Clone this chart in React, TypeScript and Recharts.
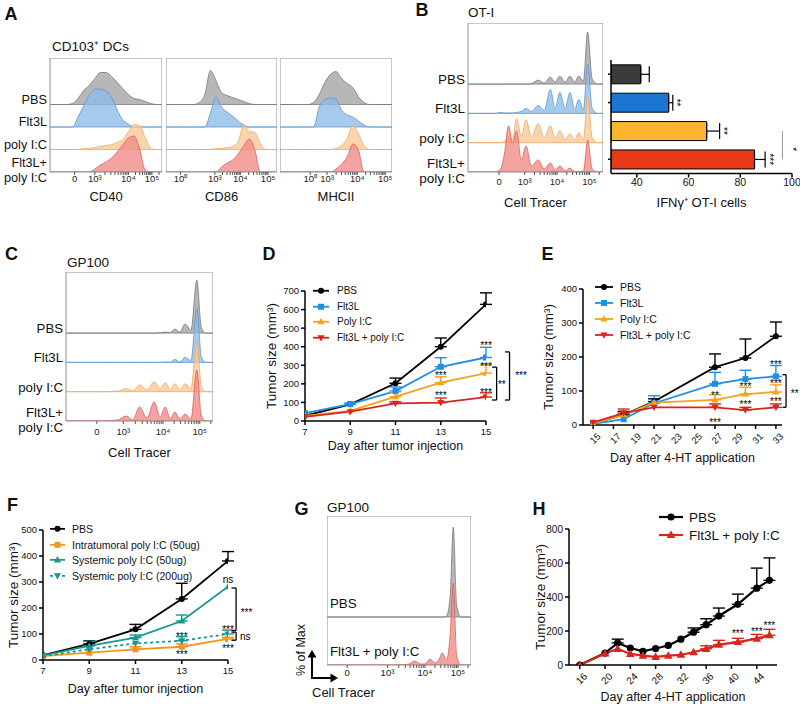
import React from "react";
import {
  Area,
  AreaChart,
  Bar,
  BarChart,
  Cell,
  ErrorBar,
  Label,
  Legend,
  Line,
  LineChart,
  ReferenceArea,
  ReferenceDot,
  ReferenceLine,
  XAxis,
  YAxis,
} from "recharts";

const FONT = "'Liberation Sans', Arial, Helvetica, sans-serif";

// ---------- flow histograms ----------
const groups = ["PBS", "Flt3L", "poly I:C", "Flt3L+\npoly I:C"];
const tracerLabels = ["0", "10³", "10⁴", "10⁵"];

const aGrid = [0, 15, 20, 25, 30, 35, 40, 45, 50, 55, 60, 65, 70, 75, 80, 85, 90, 95, 100];
const cd40Pbs = [0, 0, 1, 6, 14, 19, 26, 32, 32, 28, 22, 16, 10, 6, 5, 3, 1, 0, 0];
const cd40Flt = [0, 0, 0, 10, 21, 32, 38, 38, 36, 30, 17, 7, 3, 0, 0, 0, 0, 0, 0];
const cd40Poly = [0, 0, 0, 0, 1, 1, 2, 3, 4, 5, 7, 10, 18, 25, 24, 12, 1, 0, 0];
const cd40Combo = [0, 0, 0, 0, 0, 0, 3, 7, 10, 14, 20, 27, 34, 36, 23, 2, 0, 0, 0];
const cd86Pbs = [0, 0, 0, 0, 2, 10, 34, 24, 12, 9, 7, 5, 3, 1, 0, 0, 0, 0, 0];
const cd86Flt = [0, 0, 0, 0, 0, 0, 14, 30, 20, 15, 11, 6, 2, 0, 0, 0, 0, 0, 0];
const cd86Poly = [0, 0, 0, 0, 0, 0, 0, 1, 1, 2, 3, 8, 24, 18, 17, 6, 0, 0, 0];
const cd86Combo = [0, 0, 0, 0, 0, 0, 0, 0, 5, 9, 12, 18, 26, 33, 22, 0, 0, 0, 0];
const mhcPbs = [0, 0, 0, 0, 2, 10, 22, 30, 33, 26, 21, 17, 8, 2, 0, 0, 0, 0, 0];
const mhcFlt = [0, 0, 0, 0, 0, 20, 27, 29, 28, 17, 12, 10, 6, 2, 0, 0, 0, 0, 0];
const mhcPoly = [0, 0, 0, 0, 0, 0, 0, 0, 1, 4, 11, 24, 16, 4, 0, 0, 0, 0, 0];
const mhcCombo = [0, 0, 0, 0, 0, 0, 0, 0, 3, 8, 15, 28, 22, 0, 0, 0, 0, 0, 0];
const cd40Ticks = [22, 40, 70, 91];
const cd40Labels = ["0", "10³", "10⁴", "10⁵"];
const cd86Ticks = [13, 44, 67, 92];
const mhcTicks = [27, 42, 69, 94];
const logLabels = ["10⁰", "10³", "10⁴", "10⁵"];

const bGrid = [0, 20, 24, 27, 30, 33, 36, 39.5, 43, 47, 52, 56.5, 61, 64.5, 68, 72, 75.5, 79, 82, 85.5, 88.6, 92, 96, 100];
const bPbs = [0, 0, 0, 0, 0, 0, 0, 0, 0, 0.5, 4, 1, 7, 2, 8, 2, 8, 2, 8, 3, 52, 5, 0, 0];
const bFlt = [0, 0, 1, 0.5, 0.5, 0.5, 1, 2, 5, 2, 8, 3, 24, 5, 21, 5, 21, 4, 14, 4, 49, 5, 0, 0];
const bPoly = [0, 0, 0, 2, 5, 4, 24, 6, 23, 6, 19, 5, 17, 4, 12, 3, 9, 3, 10, 3, 47, 5, 0, 0];
const bCombo = [0, 0, 3, 18, 46, 29, 41, 12, 26, 6, 12, 3, 9, 2, 6, 1, 4, 0.5, 0.5, 1, 32, 3, 0, 0];
const bTicks = [23, 42, 66, 90];

const cGrid = [0, 25, 35, 41, 45.5, 50, 55, 60, 64, 67.5, 71, 74, 77.5, 81, 85, 89, 92, 95, 100];
const cPbs = [0, 0, 0, 0, 0, 0, 0, 0, 0.3, 1, 0.5, 4, 1, 9, 3, 53, 6, 0, 0];
const cFlt = [0, 0, 0, 0, 0, 0, 0, 0, 0, 0.3, 0.3, 3, 0.5, 5, 2, 54, 6, 0, 0];
const cPoly = [0, 0, 0.5, 3, 1, 7, 2, 10, 3, 9, 2, 8, 2, 8, 3, 51, 6, 0, 0];
const cCombo = [0, 0, 1, 5, 1, 14, 3, 19, 4, 14, 2, 9, 2, 7, 2, 51, 6, 0, 0];
const cTicks = [21, 39, 66, 91];

const gGrid = [0, 50, 57, 61, 65, 68, 71.5, 75, 78, 80, 83, 85.5, 87.7, 90, 93, 100];
const gPbs = [0, 0, 0, 0, 0, 0, 0, 0, 0, 0, 1, 20, 90, 12, 0, 0];
const gCombo = [0, 0, 1, 4, 1, 1, 6, 2, 6, 12, 5, 30, 82, 10, 0, 0];
const gTicks = [14, 42, 68, 91];
const gGroups = ["PBS", "Flt3L + poly I:C"];

const histFill = ["#a3a3a3", "#8dbbe6", "#f8c896", "#ef8a86"];
const histStroke = ["#7a7a7a", "#5b99d4", "#eeaa66", "#d9605a"];

// ---------- IFNy bars ----------
const bBarVals = [41.5, 52.3, 67, 85.5];
const bBarErrs = [3.3, 1.6, 5, 4.1];
const barColors = ["#3b3b3b", "#1a76d2", "#fdb52d", "#e5391a"];

// ---------- tumor growth ----------
const dDays = [7, 9, 11, 13, 15];
const dPbs = [28, 90, 203, 400, 628];
const dPbsErr = [null, null, 28, 47, 62];
const dFlt = [42, 91, 161, 292, 342];
const dFltErr = [null, 6, 22, 49, 55];
const dPoly = [28, 55, 131, 206, 258];
const dPolyErr = [null, null, 26, 32, 45];
const dCombo = [22, 50, 95, 99, 129];
const dComboErr = [null, null, 8, 25, 23];

const eDays = [15, 18, 21, 27, 30, 33];
const ePbs = [5, 30, 69, 170, 197, 261];
const ePbsErr = [null, 10, 8, 39, 56, 42];
const eFlt = [3, 17, 64, 121, 135, 143];
const eFltErr = [null, null, 22, 34, 26, 32];
const ePoly = [5, 30, 66, 74, 91, 97];
const ePolyErr = [null, null, null, 15, 20, 21];
const eCombo = [8, 35, 52, 52, 44, 52];
const eComboErr = [null, 12, null, 10, 8, 10];

const fDays = [7, 9, 11, 13, 15];
const fPbs = [19, 62, 118, 235, 381];
const fPbsErr = [null, 12, 19, 60, 36];
const fIntra = [15, 28, 41, 51, 81];
const fIntraErr = [null, null, 10, 11, 6];
const fSys50 = [18, 54, 86, 150, 282];
const fSys50Err = [null, 18, 10, 23, null];
const fSys200 = [15, 41, 64, 74, 100];
const fSys200Err = [null, null, null, 16, 15];

const hDays = [16, 20, 22, 24, 26, 28, 30, 32, 34, 36, 38, 41, 44, 46];
const hPbs = [0, 70, 130, 100, 80, 97, 115, 152, 193, 237, 288, 357, 452, 498];
const hPbsErr = [null, null, 22, null, null, null, null, null, 25, 35, 47, 60, 118, 132];
const hCombo = [0, 68, 95, 65, 55, 48, 55, 60, 75, 95, 120, 135, 155, 175];
const hComboErr = [null, null, null, null, null, null, null, null, null, 18, 25, 22, 25, 35];

const dNotes = [
  { x: 13, y: 255, text: "***" },
  { x: 13, y: 150, text: "***" },
  { x: 15, y: 415, text: "***" },
  { x: 15, y: 302, text: "***" },
  { x: 15, y: 167, text: "***" },
];
const dBrackets = [
  { x: 15.47, y1: 290, y2: 113, arm: 0.2, text: "**", tx: 15.7, ty: 206 },
  { x: 16.04, y1: 372, y2: 113, arm: 0.2, text: "***", tx: 16.55, ty: 258 },
];
const eNotes = [
  { x: 33, y: 185, text: "***" },
  { x: 33, y: 128, text: "***" },
  { x: 30, y: 118, text: "***" },
  { x: 27, y: 94, text: "**" },
  { x: 30, y: 66, text: "***" },
  { x: 33, y: 74, text: "***" },
  { x: 27, y: 13, text: "***" },
];
const eBrackets = [{ x: 34, y1: 148, y2: 52, arm: 0.35, text: "**", tx: 34.85, ty: 100 }];
const fNotes = [
  { x: 15, y: 308, text: "ns" },
  { x: 15, y: 125, text: "***" },
  { x: 13, y: 100, text: "***" },
  { x: 13, y: 28, text: "***" },
  { x: 15, y: 54, text: "***" },
];
const fBrackets = [
  { x: 15.35, y1: 277, y2: 113, arm: 0.2, text: "***", tx: 15.8, ty: 190 },
  { x: 15.35, y1: 107, y2: 76, arm: 0.2, text: "ns", tx: 15.75, ty: 92 },
];
const hNotes = [
  { x: 41, y: 200, text: "***" },
  { x: 44, y: 212, text: "***" },
  { x: 46, y: 245, text: "***" },
];

function Txt({ x, y, size, bold, anchor = "start", rotate, children }: any) {
  const tx = anchor === "middle" ? "-50%" : anchor === "end" ? "-100%" : "0";
  return (
    <div
      style={{
        position: "absolute",
        left: x,
        top: y,
        fontSize: size,
        fontWeight: bold ? 700 : 400,
        lineHeight: 1,
        whiteSpace: "nowrap",
        transform: `translate(${tx}, -50%)${rotate ? ` rotate(${rotate}deg)` : ""}`,
      }}
    >
      {children}
    </div>
  );
}

// minor log ticks inside each decade from 10^3 upward
function withMinorTicks(ticks: number[], labels: string[]) {
  const out = [...ticks];
  const start = labels.indexOf("10³");
  for (let i = start; i >= 0 && i < ticks.length; i++) {
    const w = i + 1 < ticks.length ? ticks[i + 1] - ticks[i] : ticks[i] - ticks[i - 1];
    for (let k = 2; k <= 9; k++) {
      const v = ticks[i] + w * Math.log10(k);
      if (v < 99.5) out.push(v);
    }
  }
  return out.sort((a, b) => a - b);
}

function FlowHist(p: any) {
  const n = p.series.length;
  const bases = p.series.map((_: any, i: number) => (n - 1 - i) * p.rowGap);
  const data = p.grid.map((x: number, j: number) => {
    const row: any = { x };
    p.series.forEach((s: number[], i: number) => {
      row["s" + i] = [bases[i], bases[i] + s[j]];
    });
    return row;
  });
  const inside = p.labelMode === "inside";
  const lw = p.labels && !inside ? p.labelW : 0;
  const allTicks = withMinorTicks(p.ticks, p.tickLabels);

  const rowTick = (t: any) => {
    const i = bases.indexOf(t.payload.value);
    const lines = (p.labels[i] || "").split("\n");
    const y0 = t.y + (inside ? -14 : lines.length > 1 ? -9 : -5);
    return (
      <text
        key={"r" + i}
        x={t.x}
        y={y0}
        textAnchor={inside ? "start" : "end"}
        dominantBaseline="central"
        fontSize={p.labelSize}
        fill="#111"
        fontFamily={FONT}
      >
        {lines.map((l: string, k: number) => (
          <tspan key={k} x={t.x} dy={k === 0 ? 0 : 14.5}>
            {l}
          </tspan>
        ))}
      </text>
    );
  };

  return (
    <div style={{ position: "absolute", left: p.left - lw, top: p.top }}>
      <AreaChart
        width={p.width + lw}
        height={p.height + p.axisH + 5}
        data={data}
        margin={{ top: 0, right: 0, bottom: 5, left: 0 }}
      >
        <XAxis
          type="number"
          dataKey="x"
          domain={[0, 100]}
          ticks={allTicks}
          interval={0}
          allowDataOverflow
          height={p.axisH}
          axisLine={false}
          tickLine={{ stroke: "#555" }}
          tickSize={3}
          tickMargin={p.tickGap}
          tick={{ fontSize: 9.5, fill: "#222", fontFamily: FONT }}
          tickFormatter={(v: number) => {
            const i = p.ticks.indexOf(v);
            return i >= 0 ? p.tickLabels[i] : "";
          }}
        >
          {p.title && (
            <Label value={p.title} position="insideBottom" offset={0} fontSize={13} fill="#111" fontFamily={FONT} />
          )}
        </XAxis>
        {p.labels ? (
          <YAxis
            type="number"
            domain={[0, p.height]}
            allowDataOverflow
            ticks={bases}
            interval={0}
            width={inside ? 120 : lw}
            mirror={inside}
            axisLine={false}
            tickLine={false}
            tickSize={0}
            tickMargin={3}
            tick={rowTick}
          />
        ) : (
          <YAxis type="number" domain={[0, p.height]} allowDataOverflow hide />
        )}
        {p.series.map((_: any, i: number) => (
          <Area
            key={i}
            type="monotone"
            dataKey={"s" + i}
            stroke={histStroke[p.palette[i]]}
            strokeWidth={0.8}
            fill={histFill[p.palette[i]]}
            fillOpacity={0.78}
            dot={false}
            activeDot={false}
            isAnimationActive={false}
          />
        ))}
        <ReferenceArea x1={0} x2={100} y1={0} y2={p.height} fill="none" stroke="#8f8f8f" strokeWidth={1} />
      </AreaChart>
    </div>
  );
}

function Glyph({ shape, x, y, r, color }: any) {
  if (x == null || y == null) return <g />;
  if (shape === "square") return <rect x={x - r} y={y - r} width={2 * r} height={2 * r} fill={color} />;
  if (shape === "triangle")
    return <polygon points={`${x},${y - r * 1.25} ${x - r * 1.2},${y + r * 0.85} ${x + r * 1.2},${y + r * 0.85}`} fill={color} />;
  if (shape === "down")
    return <polygon points={`${x},${y + r * 1.25} ${x - r * 1.2},${y - r * 0.85} ${x + r * 1.2},${y - r * 0.85}`} fill={color} />;
  return <circle cx={x} cy={y} r={r} fill={color} />;
}

const slantTick = (size: number) => (props: any) => {
  const { x, y, payload } = props;
  return (
    <text
      x={x + 3}
      y={y + 3}
      textAnchor="end"
      dominantBaseline="hanging"
      fontSize={size}
      fill="#111"
      fontFamily={FONT}
      transform={`rotate(-45 ${x + 3} ${y + 3})`}
    >
      {payload.value}
    </text>
  );
};

function LegendRows({ series, lg, r, lw }: any) {
  return (
    <div style={{ fontFamily: FONT, fontSize: lg.font, color: "#111" }}>
      {series.map((s: any) => (
        <div key={s.name} style={{ display: "flex", alignItems: "center", height: lg.rowH, whiteSpace: "nowrap" }}>
          <svg width={lg.lineLen} height={lg.rowH} style={{ display: "block" }}>
            <line
              x1={0}
              x2={lg.lineLen}
              y1={lg.rowH / 2}
              y2={lg.rowH / 2}
              stroke={s.color}
              strokeWidth={lw}
              strokeDasharray={s.dashed ? "3 3" : undefined}
            />
            <Glyph shape={s.shape} x={lg.lineLen / 2} y={lg.rowH / 2} r={r} color={s.color} />
          </svg>
          <span style={{ marginLeft: lg.gap }}>{s.name}</span>
        </div>
      ))}
    </div>
  );
}

function GrowthChart(p: any) {
  const data = p.days.map((d: number, i: number) => {
    const row: any = { day: d };
    p.series.forEach((s: any, k: number) => {
      row["v" + k] = s.values[i];
      row["e" + k] = s.errors[i] == null ? null : [0, s.errors[i]];
    });
    return row;
  });
  const axis = { stroke: "#000", strokeWidth: 1.5 };
  const noteFont = p.noteFont || 10;
  return (
    <div style={{ position: "absolute", left: p.left, top: p.top }}>
      <LineChart width={p.width} height={p.height} data={data} margin={p.margin}>
        <XAxis
          type="number"
          dataKey="day"
          domain={p.xDomain}
          ticks={p.xTicks}
          interval={0}
          allowDataOverflow
          height={p.xHeight}
          axisLine={axis}
          tickLine={axis}
          tickSize={4}
          tickMargin={p.slanted ? 0 : 3}
          tick={p.slanted ? slantTick(p.tickFont) : { fontSize: p.tickFont, fill: "#111", fontFamily: FONT }}
        >
          <Label value={p.xTitle} position="insideBottom" offset={0} fontSize={p.titleFont} fill="#111" fontFamily={FONT} />
        </XAxis>
        <YAxis
          type="number"
          domain={p.yDomain}
          ticks={p.yTicks}
          interval={0}
          allowDataOverflow
          width={p.yWidth}
          axisLine={axis}
          tickLine={axis}
          tickSize={4}
          tickMargin={2}
          tick={{ fontSize: p.tickFont, fill: "#111", fontFamily: FONT }}
        >
          <Label
            value={p.yTitle}
            angle={-90}
            position="insideLeft"
            offset={p.yTitleOffset}
            fontSize={p.yTitleFont}
            fill="#111"
            fontFamily={FONT}
            style={{ textAnchor: "middle" }}
          />
        </YAxis>
        <Legend
          layout="vertical"
          align="center"
          verticalAlign="middle"
          wrapperStyle={{ left: p.legend.left, top: p.legend.top, width: "auto" }}
          content={() => <LegendRows series={p.series} lg={p.legend} r={p.r} lw={p.lw} />}
        />
        {p.series.map((s: any, k: number) => (
          <Line
            key={s.name}
            type="linear"
            dataKey={"v" + k}
            stroke={s.color}
            strokeWidth={p.lw}
            strokeDasharray={s.dashed ? "3 3" : undefined}
            dot={(d: any) => <Glyph key={s.name + d.index} shape={s.shape} x={d.cx} y={d.cy} r={p.r} color={s.color} />}
            activeDot={false}
            isAnimationActive={false}
          >
            <ErrorBar dataKey={"e" + k} width={6} stroke={s.color} strokeWidth={1.4} direction="y" />
          </Line>
        ))}
        {p.notes.map((n: any, i: number) => (
          <ReferenceDot
            key={"n" + i}
            x={n.x}
            y={n.y}
            r={0}
            ifOverflow="visible"
            label={{ value: n.text, position: "center", fontSize: noteFont, fill: "#000", fontFamily: FONT, dy: n.text === "ns" ? 0 : 2 }}
          />
        ))}
        {p.brackets.map((b: any, i: number) => [
          <ReferenceLine key={"bv" + i} segment={[{ x: b.x, y: b.y1 }, { x: b.x, y: b.y2 }]} stroke="#000" strokeWidth={1.3} ifOverflow="visible" />,
          <ReferenceLine key={"bt" + i} segment={[{ x: b.x - b.arm, y: b.y1 }, { x: b.x, y: b.y1 }]} stroke="#000" strokeWidth={1.3} ifOverflow="visible" />,
          <ReferenceLine key={"bb" + i} segment={[{ x: b.x - b.arm, y: b.y2 }, { x: b.x, y: b.y2 }]} stroke="#000" strokeWidth={1.3} ifOverflow="visible" />,
          <ReferenceDot
            key={"bl" + i}
            x={b.tx}
            y={b.ty}
            r={0}
            ifOverflow="visible"
            label={{ value: b.text, position: "center", fontSize: noteFont, fill: "#000", fontFamily: FONT, dy: b.text === "ns" ? 0 : 2 }}
          />,
        ])}
      </LineChart>
    </div>
  );
}

function IfnBars() {
  const data = groups.map((g, i) => ({ name: g, v: bBarVals[i], e: [0, bBarErrs[i]] }));
  const starLabel = (text: string) => ({ value: text, position: "center", angle: 90, fontSize: 10, fill: "#000", fontFamily: FONT });
  return (
    <div style={{ position: "absolute", left: 600, top: 50 }}>
      <BarChart
        layout="vertical"
        width={200}
        height={165}
        data={data}
        margin={{ top: 10, right: 8, bottom: 8, left: 0 }}
        barCategoryGap="17%"
      >
        <XAxis
          type="number"
          domain={[30, 100]}
          ticks={[40, 60, 80, 100]}
          interval={0}
          allowDataOverflow
          height={33.5}
          axisLine={{ stroke: "#000", strokeWidth: 1.5 }}
          tickLine={{ stroke: "#000", strokeWidth: 1.5 }}
          tickSize={4}
          tickMargin={1}
          tick={{ fontSize: 10.5, fill: "#111", fontFamily: FONT }}
        >
          <Label value="IFNγ⁺ OT-I cells" position="insideBottom" offset={0} fontSize={13} fill="#111" fontFamily={FONT} />
        </XAxis>
        <YAxis
          type="category"
          dataKey="name"
          width={11}
          axisLine={{ stroke: "#000", strokeWidth: 1.5 }}
          tickLine={{ stroke: "#000", strokeWidth: 1.5 }}
          tickSize={3}
          tick={() => <g />}
        />
        <Bar dataKey="v" stroke="#000" strokeWidth={1} isAnimationActive={false}>
          {data.map((d, i) => (
            <Cell key={d.name} fill={barColors[i]} />
          ))}
          <ErrorBar dataKey="e" width={8} stroke="#000" strokeWidth={1.2} direction="x" />
        </Bar>
        <ReferenceDot x={55.2} y={groups[1]} r={0} ifOverflow="visible" label={starLabel("**")} />
        <ReferenceDot x={73.6} y={groups[2]} r={0} ifOverflow="visible" label={starLabel("**")} />
        <ReferenceDot x={91.4} y={groups[3]} r={0} ifOverflow="visible" label={starLabel("***")} />
        <ReferenceLine
          segment={[
            { x: 96.3, y: groups[2] },
            { x: 96.3, y: groups[3] },
          ]}
          stroke="#999"
          strokeWidth={1}
          ifOverflow="visible"
        />
        <ReferenceDot
          x={99}
          y={groups[3]}
          r={0}
          ifOverflow="visible"
          label={{ value: "*", position: "top", offset: 10, angle: 90, fontSize: 10, fill: "#000", fontFamily: FONT }}
        />
      </BarChart>
    </div>
  );
}

const dSeries = [
  { name: "PBS", values: dPbs, errors: dPbsErr, color: "#000000", shape: "circle" },
  { name: "Flt3L", values: dFlt, errors: dFltErr, color: "#1f8fe5", shape: "square" },
  { name: "Poly I:C", values: dPoly, errors: dPolyErr, color: "#f7a21b", shape: "triangle" },
  { name: "Flt3L + poly I:C", values: dCombo, errors: dComboErr, color: "#d7261e", shape: "down" },
];
const eSeries = [
  { name: "PBS", values: ePbs, errors: ePbsErr, color: "#000000", shape: "circle" },
  { name: "Flt3L", values: eFlt, errors: eFltErr, color: "#1f8fe5", shape: "square" },
  { name: "Poly I:C", values: ePoly, errors: ePolyErr, color: "#f7a21b", shape: "triangle" },
  { name: "Flt3L + poly I:C", values: eCombo, errors: eComboErr, color: "#d7261e", shape: "down" },
];
const fSeries = [
  { name: "PBS", values: fPbs, errors: fPbsErr, color: "#000000", shape: "circle" },
  { name: "Intratumoral poly I:C (50ug)", values: fIntra, errors: fIntraErr, color: "#f7941d", shape: "square" },
  { name: "Systemic poly I:C (50ug)", values: fSys50, errors: fSys50Err, color: "#16978f", shape: "triangle" },
  { name: "Systemic poly I:C (200ug)", values: fSys200, errors: fSys200Err, color: "#16978f", shape: "down", dashed: true },
];
const hSeries = [
  { name: "PBS", values: hPbs, errors: hPbsErr, color: "#000000", shape: "circle" },
  { name: "Flt3L + poly I:C", values: hCombo, errors: hComboErr, color: "#d9251c", shape: "triangle" },
];

export default function App() {
  return (
    <div
      style={{
        position: "absolute",
        left: 0,
        top: 0,
        width: 800,
        height: 704,
        background: "#fff",
        overflow: "hidden",
        fontFamily: FONT,
        color: "#111",
      }}
    >
      {/* panel letters */}
      <Txt x={11} y={14} size={18} bold anchor="middle">A</Txt>
      <Txt x={422} y={10} size={18} bold anchor="middle">B</Txt>
      <Txt x={11.5} y={254} size={18} bold anchor="middle">C</Txt>
      <Txt x={269} y={254} size={18} bold anchor="middle">D</Txt>
      <Txt x={547.5} y={254} size={18} bold anchor="middle">E</Txt>
      <Txt x={12.5} y={505} size={18} bold anchor="middle">F</Txt>
      <Txt x={301.5} y={509} size={18} bold anchor="middle">G</Txt>
      <Txt x={539} y={509} size={18} bold anchor="middle">H</Txt>

      {/* A */}
      <Txt x={52} y={47} size={13.5}>CD103⁺ DCs</Txt>
      <FlowHist
        left={50} top={58} width={112} height={114} rowGap={22.5} axisH={29} tickGap={0}
        grid={aGrid} series={[cd40Pbs, cd40Flt, cd40Poly, cd40Combo]} palette={[0, 1, 2, 3]}
        labels={groups} labelW={50} labelSize={12.7}
        ticks={cd40Ticks} tickLabels={cd40Labels} title="CD40"
      />
      <FlowHist
        left={166} top={58} width={111} height={114} rowGap={22.5} axisH={29} tickGap={0}
        grid={aGrid} series={[cd86Pbs, cd86Flt, cd86Poly, cd86Combo]} palette={[0, 1, 2, 3]}
        ticks={cd86Ticks} tickLabels={logLabels} title="CD86"
      />
      <FlowHist
        left={280} top={58} width={112} height={114} rowGap={22.5} axisH={29} tickGap={0}
        grid={aGrid} series={[mhcPbs, mhcFlt, mhcPoly, mhcCombo]} palette={[0, 1, 2, 3]}
        ticks={mhcTicks} tickLabels={logLabels} title="MHCII"
      />

      {/* B */}
      <Txt x={468} y={13} size={13.5}>OT-I</Txt>
      <FlowHist
        left={468} top={23} width={135} height={149} rowGap={29.3} axisH={34.5} tickGap={3}
        grid={bGrid} series={[bPbs, bFlt, bPoly, bCombo]} palette={[0, 1, 2, 3]}
        labels={groups} labelW={70} labelSize={13.5}
        ticks={bTicks} tickLabels={tracerLabels} title="Cell Tracer"
      />
      <IfnBars />

      {/* C */}
      <Txt x={67} y={263} size={13.5}>GP100</Txt>
      <FlowHist
        left={66} top={272} width={147} height={149} rowGap={29.3} axisH={35.5} tickGap={4}
        grid={cGrid} series={[cPbs, cFlt, cPoly, cCombo]} palette={[0, 1, 2, 3]}
        labels={groups} labelW={66} labelSize={13.2}
        ticks={cTicks} tickLabels={tracerLabels} title="Cell Tracer"
      />

      {/* D */}
      <GrowthChart
        left={255} top={275} width={285} height={185}
        margin={{ top: 16, right: 54, bottom: 10, left: 0 }} yWidth={50} xHeight={29}
        days={dDays} xDomain={[7, 15]} xTicks={[7, 9, 11, 13, 15]}
        yDomain={[0, 700]} yTicks={[0, 100, 200, 300, 400, 500, 600, 700]}
        series={dSeries} notes={dNotes} brackets={dBrackets}
        xTitle="Day after tumor injection" yTitle="Tumor size (mm³)" yTitleOffset={16} yTitleFont={13.5}
        legend={{ left: 58, top: 8, lineLen: 16, rowH: 15.5, font: 10, gap: 8 }}
        lw={1.8} r={3} tickFont={9.5} titleFont={12.5}
      />

      {/* E */}
      <GrowthChart
        left={528} top={275} width={272} height={195}
        margin={{ top: 14, right: 18, bottom: 8, left: 0 }} yWidth={55} xHeight={37}
        days={eDays} xDomain={[14, 33.6]} xTicks={[15, 17, 19, 21, 23, 25, 27, 29, 31, 33]} slanted
        yDomain={[0, 400]} yTicks={[0, 100, 200, 300, 400]}
        series={eSeries} notes={eNotes} brackets={eBrackets}
        xTitle="Day after 4-HT application" yTitle="Tumor size (mm³)" yTitleOffset={20} yTitleFont={13.5}
        legend={{ left: 67, top: 4, lineLen: 18, rowH: 16, font: 10.5, gap: 7 }}
        lw={1.8} r={3} tickFont={9.5} titleFont={12.5}
      />

      {/* F */}
      <GrowthChart
        left={0} top={515} width={265} height={189}
        margin={{ top: 15, right: 37, bottom: 11, left: 0 }} yWidth={43} xHeight={33}
        days={fDays} xDomain={[7, 15]} xTicks={[7, 9, 11, 13, 15]}
        yDomain={[0, 500]} yTicks={[0, 100, 200, 300, 400, 500]}
        series={fSeries} notes={fNotes} brackets={fBrackets}
        xTitle="Day after tumor injection" yTitle="Tumor size (mm³)" yTitleOffset={13} yTitleFont={13.5}
        legend={{ left: 50, top: 6, lineLen: 15, rowH: 15.7, font: 10.5, gap: 7 }}
        lw={1.8} r={3} tickFont={9.5} titleFont={12.5}
      />

      {/* G */}
      <Txt x={327} y={508} size={13.5}>GP100</Txt>
      <FlowHist
        left={327} top={516} width={144} height={149} rowGap={48} axisH={20} tickGap={1}
        grid={gGrid} series={[gPbs, gCombo]} palette={[0, 3]}
        labels={gGroups} labelMode="inside" labelSize={13.3}
        ticks={gTicks} tickLabels={tracerLabels}
      />
      <svg style={{ position: "absolute", left: 300, top: 645 }} width={45} height={40}>
        <line x1={12} y1={33} x2={12} y2={11} stroke="#000" strokeWidth={2} />
        <polygon points="12,5 7.5,12.5 16.5,12.5" fill="#000" />
        <line x1={11} y1={33} x2={31} y2={33} stroke="#000" strokeWidth={2} />
        <polygon points="38,33 30.5,28.5 30.5,37.5" fill="#000" />
      </svg>
      <Txt x={301} y={650} size={12.5} anchor="middle" rotate={-90}>% of Max</Txt>
      <Txt x={312} y={692} size={13}>Cell Tracer</Txt>

      {/* H */}
      <GrowthChart
        left={520} top={505} width={280} height={199}
        margin={{ top: 24, right: 23, bottom: 3, left: 0 }} yWidth={49} xHeight={36}
        days={hDays} xDomain={[14.3, 47.2]} xTicks={[16, 20, 24, 28, 32, 36, 40, 44]} slanted
        yDomain={[0, 800]} yTicks={[0, 200, 400, 600, 800]}
        series={hSeries} notes={hNotes} brackets={[]}
        xTitle="Day after 4-HT application" yTitle="Tumor size (mm³)" yTitleOffset={20} yTitleFont={13.5}
        legend={{ left: 139, top: 3, lineLen: 24, rowH: 18, font: 13.5, gap: 6 }}
        lw={2.2} r={3.6} tickFont={10} titleFont={12.5}
      />
    </div>
  );
}
